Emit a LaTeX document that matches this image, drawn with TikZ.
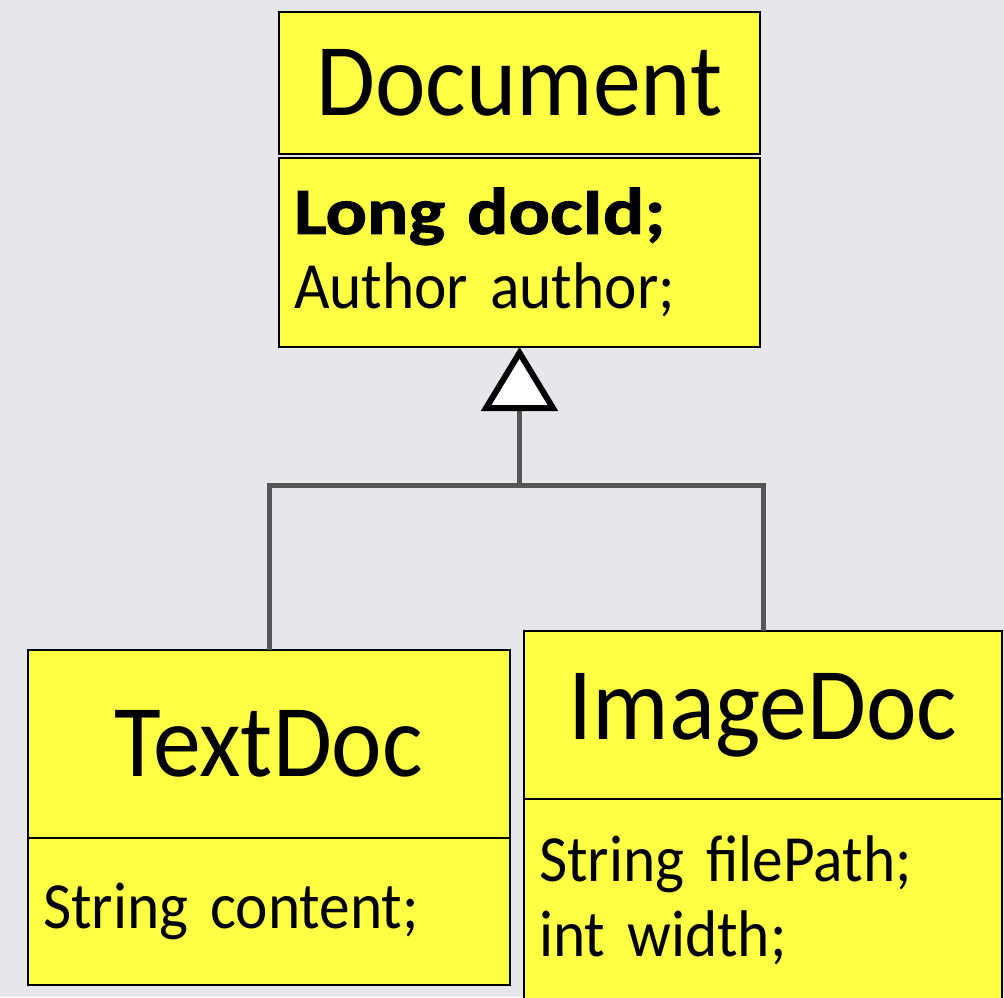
\documentclass[tikz,border=0pt]{standalone}
\usepackage{fontspec}
\setmainfont{Carlito}[FakeStretch=0.93, WordSpace=0.8]
\newfontfamily\heavyfont{Carlito}[FakeStretch=1.17, FakeBold=1.5, WordSpace=0.8]
\usepackage{xcolor}
\usetikzlibrary{arrows.meta, positioning, calc}
\definecolor{canvas}{RGB}{229,231,235}
\definecolor{classfill}{RGB}{255,255,68}
\definecolor{linkgray}{RGB}{85,85,85}
\begin{document}
\begin{tikzpicture}[
    x=1pt, y=-1pt,
    namebox/.style={draw, line width=2.5pt, fill=classfill, inner sep=0pt, outer sep=0pt, font=\fontsize{103}{103}\selectfont},
    attrbox/.style={draw, line width=2.5pt, fill=classfill, inner xsep=15pt, inner ysep=0pt, outer sep=0pt, align=left, font=\fontsize{66}{75}\selectfont},
    link/.style={draw=linkgray, line width=5pt},
    inherit/.style={link, -{Triangle[length=64pt, width=76pt, line width=6pt, color=black, fill=white]}}
]
\fill[canvas] (0,0) rectangle (1004,997);
\useasboundingbox (0,0) rectangle (1004,997);

% classes
\node (docname) [namebox, anchor=north west, minimum width=481pt, minimum height=142pt] at (279,12) {Document};
\node (docattr) [attrbox, below=4pt of docname.south west, anchor=north west, text width=451pt, minimum height=189pt] {{\heavyfont\bfseries Long docId;}\\Author author;};
\node (textname) [namebox, anchor=north west, minimum width=482pt, minimum height=188pt] at (28,650) {TextDoc};
\node (textattr) [attrbox, below=0pt of textname.south west, anchor=north west, text width=452pt, minimum height=147pt] {String content;};
\node (imgname) [namebox, anchor=north west, minimum width=478pt, minimum height=168pt] at (524,631) {ImageDoc};
\node (imgattr) [attrbox, below=0pt of imgname.south west, anchor=north west, text width=448pt, minimum height=202pt] {String filePath;\\int width;};

% generalization
\path (docattr.south) ++(0,138) coordinate (joint);
\draw [link] (textname.north) |- (joint) -| (imgname.north);
\draw [inherit] (joint) -- (docattr.south);
\end{tikzpicture}
\end{document}
